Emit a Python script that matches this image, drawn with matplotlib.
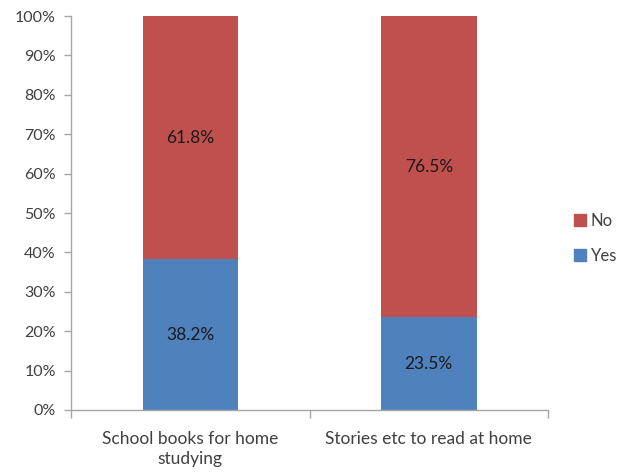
import numpy as np
import matplotlib.pyplot as plt
from matplotlib.patches import Patch
from matplotlib.ticker import FixedLocator, PercentFormatter

plt.rcParams['font.family'] = ['Lato', 'DejaVu Sans']

categories = ["School books for home\nstudying", "Stories etc to read at home"]
yes = [38.2, 23.5]
no = [61.8, 76.5]

blue = "#4F81BD"
red = "#C0504D"
grey = "#A6A6A6"
text_col = "#404040"

fig = plt.figure(figsize=(6.2, 4.72), dpi=100)
ax = fig.add_axes([0.1145, 0.1314, 0.7695, 0.8346])

x = np.arange(len(categories))
ax.bar(x, yes, width=0.4, color=blue)
ax.bar(x, no, width=0.4, bottom=yes, color=red)

for xi, y_val, n_val in zip(x, yes, no):
    ax.text(xi, y_val / 2, f"{y_val:.1f}%", ha="center", va="center",
            fontsize=12.5, color="#1a1a1a")
    ax.text(xi, y_val + n_val / 2, f"{n_val:.1f}%", ha="center", va="center",
            fontsize=12.5, color="#1a1a1a")

ax.set_xlim(-0.5, 1.5)
ax.set_ylim(0, 100)
ax.set_yticks(np.arange(0, 101, 10))
ax.yaxis.set_major_formatter(PercentFormatter(decimals=0))

# category boundaries carry the tick marks, labels sit between them
ax.xaxis.set_major_locator(FixedLocator([-0.5, 0.5, 1.5]))
ax.set_xticklabels([])
ax.xaxis.set_minor_locator(FixedLocator(x))
ax.set_xticklabels(categories, minor=True, linespacing=1.3)
ax.tick_params(axis="x", which="minor", length=0, pad=15, labelsize=12.5,
               labelcolor=text_col)
ax.tick_params(axis="x", which="major", length=6, color=grey, width=1)
ax.tick_params(axis="y", length=5, color=grey, width=1, labelsize=11.5,
               labelcolor=text_col, pad=6)

for side in ("top", "right"):
    ax.spines[side].set_visible(False)
for side in ("left", "bottom"):
    ax.spines[side].set_color(grey)
    ax.spines[side].set_linewidth(1)

handles = [Patch(color=red, label="No"), Patch(color=blue, label="Yes")]
fig.legend(handles=handles, loc="center left", bbox_to_anchor=(0.926, 0.495),
           frameon=False, fontsize=12, handlelength=0.7, handleheight=0.7,
           handletextpad=0.3, labelspacing=1.15, labelcolor=text_col,
           borderaxespad=0, borderpad=0)

fig.savefig("out.png", dpi=100)
